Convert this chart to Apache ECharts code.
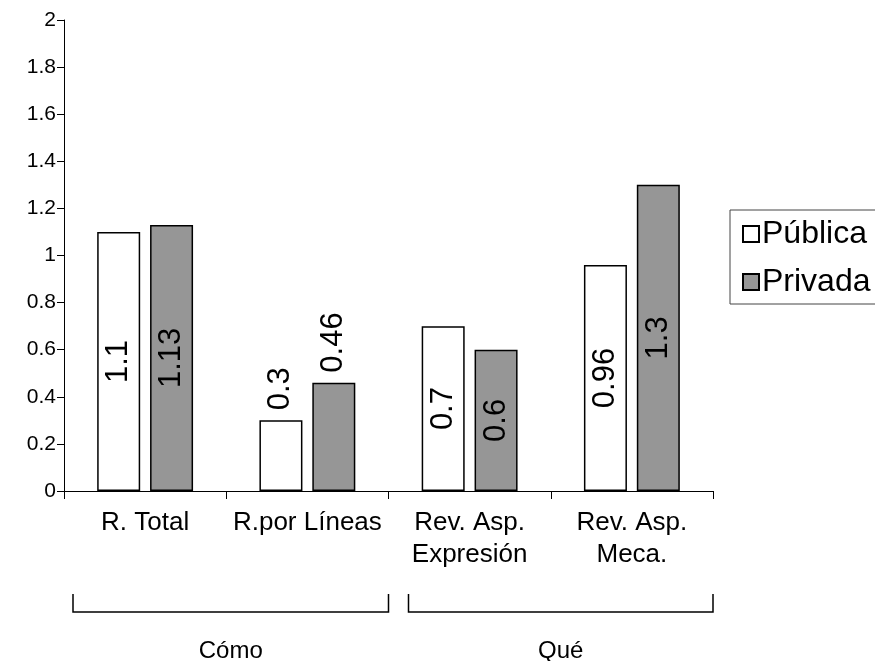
<!DOCTYPE html>
<html>
<head>
<meta charset="utf-8">
<script src="https://cdn.jsdelivr.net/npm/echarts@6/dist/echarts.min.js"></script>
<style>
  html, body { margin: 0; padding: 0; background: #ffffff; }
  #chart { width: 875px; height: 661px; }
</style>
</head>
<body>
<div id="chart"></div>
<script>
// Categories and values
const categories = ['R. Total', 'R.por Líneas', 'Rev. Asp.\nExpresión', 'Rev. Asp.\nMeca.'];
const seriesNames = ['Pública', 'Privada'];
const publica = [1.1, 0.3, 0.7, 0.96];
const privada = [1.13, 0.46, 0.6, 1.3];

// Category groups shown with brackets under the axis
const groupNames = ['Cómo', 'Qué'];
const groupFirst = [0, 2];
const groupLast = [1, 3];

// Value axis range
const yMin = 0;
const yMax = 2;
const yStep = 0.2;

const FONT = "'Liberation Sans', Arial, sans-serif";
const GRAY = '#969696';

// Short bars carry their label above the bar, tall ones inside it
function barData(values) {
  return values.map(v => ({
    value: v,
    label: v < 0.5
      ? { position: 'top', rotate: 90, align: 'left', verticalAlign: 'middle', distance: 10 }
      : { position: 'inside', rotate: 90, align: 'center', verticalAlign: 'middle' }
  }));
}

const labelStyle = {
  show: true,
  color: '#000',
  fontFamily: FONT,
  fontSize: 31,
  formatter: p => String(p.value)
};

const chart = echarts.init(document.getElementById('chart'), null, { renderer: 'canvas' });

chart.setOption({
  animation: false,
  backgroundColor: '#ffffff',
  textStyle: { fontFamily: FONT, color: '#000' },
  grid: { left: 64, right: 162, top: 20, bottom: 170, containLabel: false },
  legend: {
    orient: 'vertical',
    left: 730,
    top: 210,
    padding: [8, 20, 6, 12],
    itemGap: 16,
    itemWidth: 16,
    itemHeight: 16,
    icon: 'rect',
    borderColor: '#444',
    borderWidth: 1,
    textStyle: { fontFamily: FONT, fontSize: 32, color: '#000', padding: [0, 0, 0, -2] },
    data: seriesNames
  },
  xAxis: {
    type: 'category',
    data: categories,
    boundaryGap: true,
    axisLine: { lineStyle: { color: '#000', width: 1 } },
    axisTick: { show: true, length: 8, alignWithLabel: false, lineStyle: { color: '#000' } },
    axisLabel: {
      interval: 0,
      margin: 16,
      fontFamily: FONT,
      fontSize: 26,
      lineHeight: 32,
      color: '#000'
    },
    splitLine: { show: false }
  },
  yAxis: {
    type: 'value',
    min: yMin,
    max: yMax,
    interval: yStep,
    axisLine: { show: true, lineStyle: { color: '#000', width: 1 } },
    axisTick: { show: true, length: 7, lineStyle: { color: '#000' } },
    axisLabel: { margin: 8, fontFamily: FONT, fontSize: 21, color: '#000' },
    splitLine: { show: false }
  },
  series: [
    {
      name: seriesNames[0],
      type: 'bar',
      data: barData(publica),
      barWidth: 43,
      barGap: '23%',
      itemStyle: { color: '#ffffff', borderColor: '#000', borderWidth: 1.5 },
      label: labelStyle
    },
    {
      name: seriesNames[1],
      type: 'bar',
      data: barData(privada),
      barWidth: 43,
      itemStyle: { color: GRAY, borderColor: '#000', borderWidth: 1.5 },
      label: labelStyle
    }
  ]
});

// Group brackets placed from the category axis scale
const c0 = chart.convertToPixel({ xAxisIndex: 0 }, 0);
const c1 = chart.convertToPixel({ xAxisIndex: 0 }, 1);
const band = c1 - c0;
const bracketInsets = [[9, 0], [20, 0]];
const bracketTop = 594;
const bracketBottom = 612;
const groupLabelY = 651;

const graphics = [];
groupNames.forEach((name, i) => {
  const left = chart.convertToPixel({ xAxisIndex: 0 }, groupFirst[i]) - band / 2 + bracketInsets[i][0];
  const right = chart.convertToPixel({ xAxisIndex: 0 }, groupLast[i]) + band / 2 - bracketInsets[i][1];
  graphics.push({
    type: 'polyline',
    shape: { points: [[left, bracketTop], [left, bracketBottom], [right, bracketBottom], [right, bracketTop]] },
    style: { stroke: '#000', lineWidth: 1.5, fill: null }
  });
  graphics.push({
    type: 'text',
    x: (left + right) / 2,
    y: groupLabelY,
    style: { text: name, fontFamily: FONT, fontSize: 24, fill: '#000', align: 'center', verticalAlign: 'middle' }
  });
});
chart.setOption({ graphic: graphics });
</script>
</body>
</html>
